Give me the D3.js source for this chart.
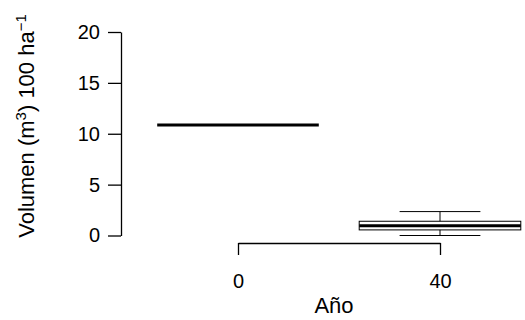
<!DOCTYPE html>
<html><head><meta charset="utf-8">
<script src="https://cdn.jsdelivr.net/npm/d3@7"></script>
<style>html,body{margin:0;padding:0;background:#fff;}svg{display:block;font-family:"Liberation Sans",Arial,sans-serif;}</style>
</head><body>
<svg id="c" width="525" height="320"></svg>
<script>
const years = [0, 40];
const whiskerLow = [10.85, 0.0];
const q1 = [10.85, 0.55];
const median = [10.85, 0.96];
const q3 = [10.85, 1.40];
const whiskerHigh = [10.85, 2.35];
const yTicks = [0, 5, 10, 15, 20];
const xTicks = [0, 40];

const svg = d3.select("#c");
const y = d3.scaleLinear().domain([0, 20]).range([235.5, 32]);
const x = d3.scaleLinear().domain([0, 40]).range([238, 440]);
const boxHalf = 16, capHalf = 8;

// y axis
const yAxis = d3.axisLeft(y).tickValues(yTicks).tickSize(13).tickPadding(8).tickSizeOuter(0);
const gy = svg.append("g").attr("transform", "translate(121,0)").call(yAxis);
gy.select(".domain").attr("stroke", "#000").attr("stroke-width", 1.3);
gy.selectAll(".tick line").attr("stroke", "#000").attr("stroke-width", 1.3);
gy.selectAll(".tick text").attr("font-size", 20).attr("fill", "#000").attr("font-family", "Liberation Sans, Arial, sans-serif");

// x axis
const xAxis = d3.axisBottom(x).tickValues(xTicks).tickSize(12).tickPadding(19).tickSizeOuter(0);
const gx = svg.append("g").attr("transform", "translate(0,243)").call(xAxis);
gx.select(".domain").attr("stroke", "#000").attr("stroke-width", 1.3);
gx.selectAll(".tick line").attr("stroke", "#000").attr("stroke-width", 1.3);
gx.selectAll(".tick text").attr("font-size", 20).attr("fill", "#000").attr("font-family", "Liberation Sans, Arial, sans-serif");

// boxes
const data = years.map((yr, i) => ({yr, lo: whiskerLow[i], q1: q1[i], med: median[i], q3: q3[i], hi: whiskerHigh[i]}));
const g = svg.append("g");
data.forEach(d => {
  const cx = x(d.yr), L = x(d.yr - boxHalf), R = x(d.yr + boxHalf);
  const cl = x(d.yr - capHalf), cr = x(d.yr + capHalf);
  g.append("line").attr("x1", cx).attr("x2", cx).attr("y1", y(d.q3)).attr("y2", y(d.hi)).attr("stroke", "#000");
  g.append("line").attr("x1", cx).attr("x2", cx).attr("y1", y(d.q1)).attr("y2", y(d.lo)).attr("stroke", "#000");
  g.append("line").attr("x1", cl).attr("x2", cr).attr("y1", y(d.hi)).attr("y2", y(d.hi)).attr("stroke", "#000");
  g.append("line").attr("x1", cl).attr("x2", cr).attr("y1", y(d.lo)).attr("y2", y(d.lo)).attr("stroke", "#000");
  g.append("rect").attr("x", L).attr("y", y(d.q3)).attr("width", R - L).attr("height", Math.max(0, y(d.q1) - y(d.q3)))
    .attr("fill", "none").attr("stroke", "#000");
  g.append("line").attr("x1", L).attr("x2", R).attr("y1", y(d.med)).attr("y2", y(d.med)).attr("stroke", "#000").attr("stroke-width", 3);
});

// axis titles
svg.append("text").attr("x", 334).attr("y", 313).attr("text-anchor", "middle").attr("font-size", 22).text("Año");
const yt = svg.append("text").attr("transform", "translate(34,126) rotate(-90)").attr("text-anchor", "middle").attr("font-size", 22);
yt.append("tspan").text("Volumen (m");
yt.append("tspan").attr("dy", -8).attr("font-size", 15).text("3");
yt.append("tspan").attr("dy", 8).text(") 100 ha");
yt.append("tspan").attr("dy", -8).attr("font-size", 15).text("\u22121");
</script>
</body></html>
